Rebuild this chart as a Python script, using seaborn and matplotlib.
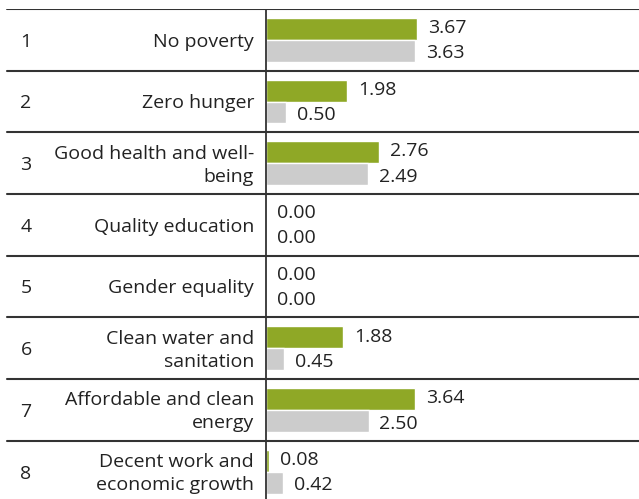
import pandas as pd
import seaborn as sns
import matplotlib.pyplot as plt

# Data
goal_numbers = ["1", "2", "3", "4", "5", "6", "7", "8"]
goal_labels = [
    "No poverty",
    "Zero hunger",
    "Good health and well-\nbeing",
    "Quality education",
    "Gender equality",
    "Clean water and\nsanitation",
    "Affordable and clean\nenergy",
    "Decent work and\neconomic growth",
]
series_a = [3.67, 1.98, 2.76, 0.00, 0.00, 1.88, 3.64, 0.08]
series_b = [3.63, 0.50, 2.49, 0.00, 0.00, 0.45, 2.50, 0.42]

GREEN = "#8fa826"
GREY = "#cccccc"
TEXT = "#222222"
LINE = "#333333"

W, H = 639, 499
ZERO_PX = 265.5
PX_PER_UNIT = 41.2

df = pd.concat([
    pd.DataFrame({"goal": goal_numbers, "value": series_a, "series": "a"}),
    pd.DataFrame({"goal": goal_numbers, "value": series_b, "series": "b"}),
])

sns.set_style("white")
plt.rcParams["font.family"] = ["Open Sans", "DejaVu Sans"]

fig = plt.figure(figsize=(W / 100, H / 100), dpi=100)
top = 1 - 9 / H
bottom = -3.5 / H
ax = fig.add_axes([0, bottom, 1, top - bottom])

sns.barplot(data=df, y="goal", x="value", hue="series", orient="h",
            palette=[GREEN, GREY], width=0.71, dodge=True, legend=False,
            saturation=1, ax=ax)

ax.set_xlim(-ZERO_PX / PX_PER_UNIT, (W - ZERO_PX) / PX_PER_UNIT)
ax.set_ylim(7.5, -0.5)
ax.axis("off")

def px_to_x(px):
    return (px - ZERO_PX) / PX_PER_UNIT

# row separators and the zero line
for i in range(8):
    ax.axhline(i - 0.5, xmin=7 / W, xmax=1, color=LINE, lw=1.5)
ax.axvline(0, color=LINE, lw=1.3)

fs = 14
for i in range(8):
    ax.text(px_to_x(26), i + 0.03, goal_numbers[i], ha="center", va="center",
            fontsize=fs, color=TEXT)
    ax.text(px_to_x(254), i + 0.03, goal_labels[i], ha="right", va="center",
            fontsize=fs, color=TEXT, linespacing=1.36)
    ax.text(series_a[i] + px_to_x(ZERO_PX + 11), i - 0.19, f"{series_a[i]:.2f}",
            ha="left", va="center", fontsize=fs, color=TEXT)
    ax.text(series_b[i] + px_to_x(ZERO_PX + 11), i + 0.22, f"{series_b[i]:.2f}",
            ha="left", va="center", fontsize=fs, color=TEXT)

fig.savefig("out.png", dpi=100)
